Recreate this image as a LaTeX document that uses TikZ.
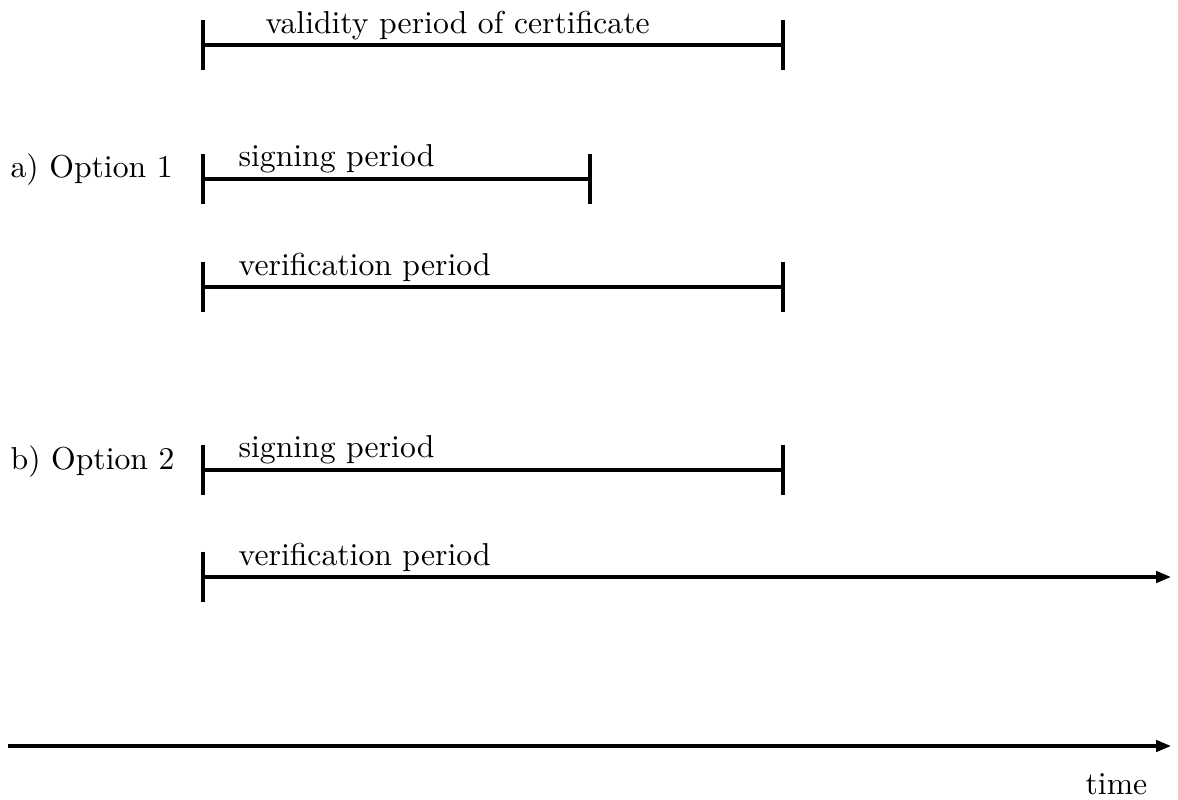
\documentclass[tikz,border=0pt]{standalone}
\usetikzlibrary{arrows.meta}
\begin{document}
\begin{tikzpicture}[x=0.3155pt,y=-0.3155pt,
  span/.style={line width=1pt},
  tick/.style={line width=1.25pt},
  timearrow/.style={line width=1pt,-{Triangle[length=4.7pt,width=3.6pt]}},
  lbl/.style={anchor=base west,inner sep=0pt,font=\fontsize{10}{12}\selectfont}]
\useasboundingbox (0,0) rectangle (1178,800);

% validity period of the certificate
\coordinate (v1) at (203,45); \coordinate (v2) at (783,45);
\draw[span] (v1) -- (v2);
\draw[tick] ([shift={(0,-25)}]v1) -- ([shift={(0,25)}]v1);
\draw[tick] ([shift={(0,-25)}]v2) -- ([shift={(0,25)}]v2);
\node[lbl] (vtxt) at (265,34) {validity period of certificate};

% option 1: signing period
\node[lbl] (opta) at (10,178) {a) Option 1};
\coordinate (s1) at (203,179); \coordinate (s2) at (590,179);
\draw[span] (s1) -- (s2);
\draw[tick] ([shift={(0,-25)}]s1) -- ([shift={(0,25)}]s1);
\draw[tick] ([shift={(0,-25)}]s2) -- ([shift={(0,25)}]s2);
\node[lbl] (stxta) at (238,167) {signing period};

% option 1: verification period
\coordinate (r1) at (203,287); \coordinate (r2) at (783,287);
\draw[span] (r1) -- (r2);
\draw[tick] ([shift={(0,-25)}]r1) -- ([shift={(0,25)}]r1);
\draw[tick] ([shift={(0,-25)}]r2) -- ([shift={(0,25)}]r2);
\node[lbl] (rtxta) at (238,276) {verification period};

% option 2: signing period
\node[lbl] (optb) at (10,470) {b) Option 2};
\coordinate (t1) at (203,470); \coordinate (t2) at (783,470);
\draw[span] (t1) -- (t2);
\draw[tick] ([shift={(0,-25)}]t1) -- ([shift={(0,25)}]t1);
\draw[tick] ([shift={(0,-25)}]t2) -- ([shift={(0,25)}]t2);
\node[lbl] (stxtb) at (238,458) {signing period};

% option 2: open-ended verification period
\coordinate (u1) at (203,577); \coordinate (u2) at (1171,577);
\draw[timearrow] (u1) -- (u2);
\draw[tick] ([shift={(0,-25)}]u1) -- ([shift={(0,25)}]u1);
\node[lbl] (rtxtb) at (238,566) {verification period};

% time axis
\coordinate (a1) at (8,746); \coordinate (a2) at (1171,746);
\draw[timearrow] (a1) -- (a2);
\node[lbl] (time) at (1085,795) {time};
\end{tikzpicture}
\end{document}
